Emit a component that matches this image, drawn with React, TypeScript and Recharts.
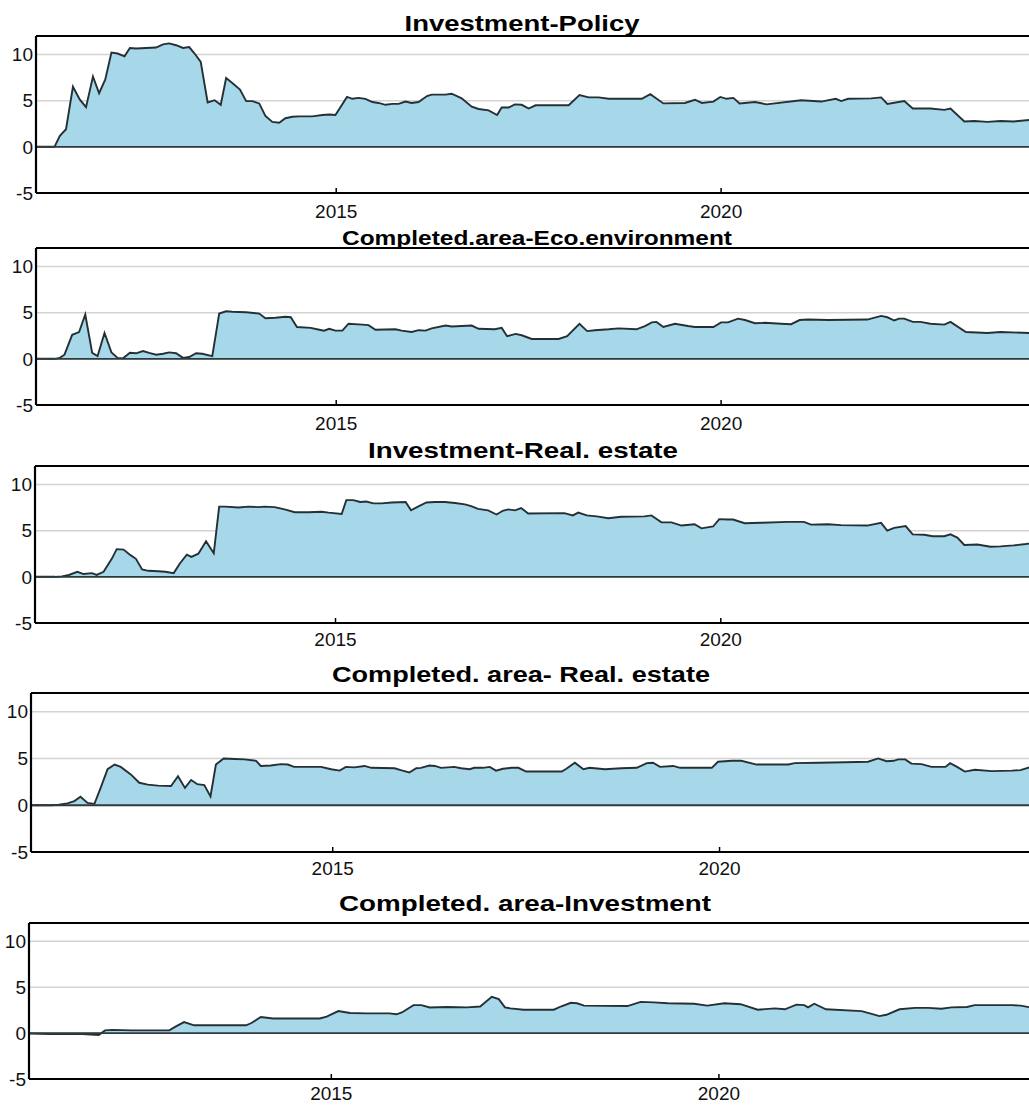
import { AreaChart, Area, XAxis, YAxis, CartesianGrid, ReferenceLine } from 'recharts';

// titles of the five panels, top to bottom
const panelTitles = [
  'Investment-Policy',
  'Completed.area-Eco.environment',
  'Investment-Real. estate',
  'Completed. area- Real. estate',
  'Completed. area-Investment',
];

const yearTicks = [2015, 2020];
const valueTicks = [-5, 0, 5, 10];

// Investment-Policy
const policyYears = [
  2011.1, 2011.34, 2011.41, 2011.49, 2011.58, 2011.67, 2011.75, 2011.84, 2011.92, 2012.0,
  2012.08, 2012.16, 2012.25, 2012.32, 2012.4, 2012.53, 2012.66, 2012.75, 2012.83, 2012.92,
  2013.01, 2013.09, 2013.16, 2013.24, 2013.33, 2013.42, 2013.5, 2013.57, 2013.65, 2013.75,
  2013.83, 2013.91, 2014.0, 2014.08, 2014.17, 2014.26, 2014.34, 2014.43, 2014.52, 2014.69,
  2014.82, 2014.91, 2014.99, 2015.14, 2015.21, 2015.29, 2015.38, 2015.47, 2015.55, 2015.64,
  2015.73, 2015.81, 2015.9, 2015.98, 2016.07, 2016.18, 2016.24, 2016.42, 2016.5, 2016.63,
  2016.76, 2016.85, 2016.98, 2017.09, 2017.15, 2017.24, 2017.32, 2017.41, 2017.5, 2017.59,
  2018.02, 2018.16, 2018.28, 2018.41, 2018.54, 2018.97, 2019.08, 2019.25, 2019.53, 2019.66,
  2019.75, 2019.9, 2019.99, 2020.07, 2020.16, 2020.24, 2020.44, 2020.59, 2021.04, 2021.3,
  2021.49, 2021.56, 2021.65, 2021.95, 2022.08, 2022.16, 2022.38, 2022.49, 2022.72, 2022.9,
  2022.98, 2023.16, 2023.29, 2023.46, 2023.63, 2023.8, 2024.0,
];
const policyValues = [
  0, 0, 1.2, 1.9, 6.5, 5.1, 4.3, 7.6, 5.8, 7.3,
  10.2, 10.1, 9.8, 10.7, 10.65, 10.7, 10.75, 11.1, 11.2, 11.0,
  10.7, 10.8, 10.1, 9.2, 4.8, 5.05, 4.55, 7.45, 6.9, 6.2,
  4.95, 4.95, 4.7, 3.35, 2.7, 2.6, 3.1, 3.25, 3.3, 3.3,
  3.45, 3.5, 3.45, 5.4, 5.2, 5.3, 5.2, 4.85, 4.75, 4.55,
  4.65, 4.65, 4.9, 4.75, 4.85, 5.5, 5.65, 5.65, 5.75, 5.25,
  4.35, 4.1, 3.95, 3.45, 4.25, 4.25, 4.6, 4.55, 4.15, 4.5,
  4.5, 5.6, 5.35, 5.35, 5.2, 5.2, 5.7, 4.7, 4.75, 5.1,
  4.75, 4.9, 5.4, 5.2, 5.3, 4.7, 4.85, 4.6, 5.05, 4.9,
  5.2, 4.95, 5.2, 5.25, 5.35, 4.65, 4.95, 4.15, 4.15, 4.0,
  4.15, 2.75, 2.8, 2.7, 2.8, 2.75, 2.9,
];

// Completed.area-Eco.environment
const ecoYears = [
  2011.1, 2011.34, 2011.41, 2011.47, 2011.57, 2011.66, 2011.74, 2011.83, 2011.9, 2011.99,
  2012.08, 2012.16, 2012.23, 2012.32, 2012.4, 2012.49, 2012.57, 2012.66, 2012.75, 2012.83,
  2012.92, 2013.01, 2013.09, 2013.18, 2013.26, 2013.39, 2013.48, 2013.57, 2013.65, 2013.83,
  2014.0, 2014.08, 2014.21, 2014.34, 2014.41, 2014.49, 2014.67, 2014.78, 2014.84, 2014.91,
  2014.99, 2015.08, 2015.16, 2015.34, 2015.42, 2015.51, 2015.77, 2015.85, 2015.98, 2016.07,
  2016.16, 2016.24, 2016.42, 2016.5, 2016.76, 2016.85, 2017.06, 2017.15, 2017.22, 2017.33,
  2017.41, 2017.54, 2017.89, 2018.0, 2018.16, 2018.26, 2018.36, 2018.54, 2018.67, 2018.9,
  2019.01, 2019.1, 2019.16, 2019.25, 2019.4, 2019.57, 2019.66, 2019.9, 2020.0, 2020.09,
  2020.22, 2020.31, 2020.44, 2020.57, 2020.78, 2020.91, 2021.02, 2021.13, 2021.39, 2021.9,
  2022.08, 2022.16, 2022.25, 2022.31, 2022.38, 2022.49, 2022.59, 2022.72, 2022.9, 2022.98,
  2023.18, 2023.46, 2023.63, 2024.0,
];
const ecoValues = [
  0, 0, 0.1, 0.45, 2.6, 2.9, 4.8, 0.65, 0.3, 2.8,
  0.7, 0.1, 0.05, 0.65, 0.6, 0.85, 0.65, 0.45, 0.55, 0.7,
  0.6, 0.1, 0.2, 0.6, 0.55, 0.3, 4.9, 5.15, 5.1, 5.05,
  4.9, 4.4, 4.45, 4.55, 4.5, 3.45, 3.35, 3.15, 3.05, 3.25,
  3.05, 3.05, 3.8, 3.7, 3.65, 3.15, 3.2, 3.05, 2.9, 3.1,
  3.05, 3.3, 3.6, 3.5, 3.6, 3.25, 3.2, 3.35, 2.45, 2.7,
  2.55, 2.15, 2.15, 2.45, 3.8, 3.0, 3.1, 3.2, 3.3, 3.2,
  3.55, 3.95, 4.0, 3.45, 3.8, 3.55, 3.45, 3.45, 3.95, 3.95,
  4.35, 4.2, 3.85, 3.9, 3.8, 3.75, 4.2, 4.25, 4.2, 4.25,
  4.65, 4.5, 4.15, 4.35, 4.35, 4.0, 4.0, 3.8, 3.7, 4.0,
  2.9, 2.8, 2.9, 2.8,
];

// Investment-Real. estate
const realEstateYears = [
  2011.1, 2011.36, 2011.45, 2011.54, 2011.65, 2011.73, 2011.84, 2011.9, 2011.99, 2012.1,
  2012.16, 2012.25, 2012.34, 2012.41, 2012.49, 2012.57, 2012.7, 2012.79, 2012.9, 2012.98,
  2013.07, 2013.13, 2013.22, 2013.32, 2013.42, 2013.49, 2013.57, 2013.74, 2013.87, 2014.0,
  2014.08, 2014.21, 2014.34, 2014.47, 2014.65, 2014.82, 2014.91, 2015.08, 2015.14, 2015.23,
  2015.32, 2015.4, 2015.49, 2015.6, 2015.73, 2015.91, 2015.98, 2016.07, 2016.18, 2016.29,
  2016.42, 2016.55, 2016.68, 2016.76, 2016.85, 2016.98, 2017.09, 2017.17, 2017.24, 2017.33,
  2017.41, 2017.5, 2017.97, 2018.08, 2018.15, 2018.26, 2018.39, 2018.54, 2018.71, 2019.01,
  2019.1, 2019.23, 2019.36, 2019.49, 2019.66, 2019.75, 2019.9, 2019.98, 2020.09, 2020.16,
  2020.31, 2020.52, 2020.87, 2021.08, 2021.17, 2021.39, 2021.56, 2021.9, 2022.08, 2022.16,
  2022.25, 2022.4, 2022.49, 2022.64, 2022.75, 2022.9, 2022.98, 2023.07, 2023.16, 2023.33,
  2023.5, 2023.63, 2023.8, 2023.96, 2024.0,
];
const realEstateValues = [
  0, 0, 0.05, 0.2, 0.55, 0.3, 0.4, 0.2, 0.55, 2.0,
  3.0, 2.95, 2.35, 1.95, 0.8, 0.65, 0.6, 0.55, 0.4, 1.45,
  2.4, 2.15, 2.5, 3.85, 2.55, 7.6, 7.6, 7.5, 7.6, 7.55,
  7.6, 7.55, 7.3, 7.0, 7.0, 7.05, 6.95, 6.8, 8.3, 8.3,
  8.1, 8.15, 7.95, 7.95, 8.05, 8.1, 7.2, 7.6, 8.05, 8.1,
  8.1, 8.0, 7.85, 7.65, 7.35, 7.2, 6.75, 7.15, 7.3, 7.2,
  7.45, 6.85, 6.9, 6.65, 6.95, 6.65, 6.55, 6.35, 6.5, 6.55,
  6.65, 5.9, 5.9, 5.55, 5.7, 5.25, 5.45, 6.25, 6.2, 6.2,
  5.8, 5.85, 5.95, 5.95, 5.65, 5.7, 5.6, 5.55, 5.85, 5.0,
  5.3, 5.5, 4.6, 4.55, 4.4, 4.4, 4.6, 4.25, 3.45, 3.5,
  3.25, 3.3, 3.4, 3.55, 3.6,
];

// Completed. area- Real. estate
const areaRealEstateYears = [
  2011.1, 2011.36, 2011.46, 2011.57, 2011.66, 2011.74, 2011.83, 2011.92, 2012.0, 2012.09,
  2012.18, 2012.26, 2012.39, 2012.5, 2012.61, 2012.74, 2012.91, 2013.0, 2013.09, 2013.17,
  2013.25, 2013.34, 2013.42, 2013.49, 2013.59, 2013.73, 2013.86, 2014.01, 2014.07, 2014.2,
  2014.33, 2014.42, 2014.5, 2014.63, 2014.85, 2014.98, 2015.09, 2015.17, 2015.28, 2015.41,
  2015.5, 2015.8, 2015.88, 2015.99, 2016.08, 2016.14, 2016.25, 2016.32, 2016.4, 2016.57,
  2016.66, 2016.77, 2016.83, 2016.94, 2017.03, 2017.11, 2017.2, 2017.31, 2017.4, 2017.5,
  2017.96, 2018.02, 2018.13, 2018.24, 2018.32, 2018.52, 2018.73, 2018.93, 2019.06, 2019.14,
  2019.23, 2019.4, 2019.49, 2019.9, 2019.98, 2020.16, 2020.28, 2020.48, 2020.89, 2020.97,
  2021.28, 2021.62, 2021.92, 2022.05, 2022.16, 2022.25, 2022.31, 2022.4, 2022.48, 2022.61,
  2022.74, 2022.92, 2022.98, 2023.07, 2023.17, 2023.3, 2023.52, 2023.78, 2023.89, 2024.02,
];
const areaRealEstateValues = [
  0, 0, 0.05, 0.2, 0.45, 0.9, 0.25, 0.15, 1.85, 3.85,
  4.35, 4.1, 3.3, 2.4, 2.2, 2.1, 2.05, 3.1, 1.85, 2.7,
  2.25, 2.15, 0.95, 4.35, 5.0, 4.95, 4.9, 4.75, 4.2, 4.25,
  4.4, 4.35, 4.1, 4.1, 4.1, 3.85, 3.7, 4.1, 4.05, 4.2,
  4.0, 3.95, 3.75, 3.5, 3.95, 4.0, 4.25, 4.2, 4.0, 4.1,
  3.95, 3.85, 4.0, 4.0, 4.1, 3.7, 3.9, 4.0, 4.0, 3.6,
  3.6, 3.9, 4.55, 3.85, 4.0, 3.85, 3.95, 4.0, 4.5, 4.55,
  4.1, 4.2, 4.0, 4.0, 4.65, 4.75, 4.75, 4.35, 4.35, 4.5,
  4.55, 4.6, 4.65, 5.0, 4.7, 4.75, 4.9, 4.9, 4.45, 4.4,
  4.1, 4.1, 4.5, 4.1, 3.6, 3.8, 3.65, 3.7, 3.75, 4.1,
];

// Completed. area-Investment
const areaInvestmentYears = [
  2011.1, 2011.36, 2011.79, 2012.0, 2012.08, 2012.18, 2012.43, 2012.91, 2012.99, 2013.1,
  2013.23, 2013.51, 2013.9, 2013.97, 2014.09, 2014.25, 2014.85, 2014.94, 2015.09, 2015.24,
  2015.45, 2015.75, 2015.84, 2015.91, 2016.06, 2016.16, 2016.27, 2016.49, 2016.75, 2016.92,
  2017.07, 2017.16, 2017.24, 2017.31, 2017.48, 2017.87, 2017.96, 2018.09, 2018.17, 2018.26,
  2018.82, 2018.99, 2019.16, 2019.34, 2019.68, 2019.85, 2020.07, 2020.28, 2020.5, 2020.72,
  2020.85, 2021.0, 2021.1, 2021.15, 2021.23, 2021.38, 2021.84, 2021.97, 2022.07, 2022.16,
  2022.33, 2022.53, 2022.7, 2022.87, 2023.0, 2023.2, 2023.3, 2023.78, 2023.89, 2024.02,
];
const areaInvestmentValues = [
  -0.05, -0.1, -0.1, -0.2, 0.3, 0.35, 0.3, 0.3, 0.7, 1.2,
  0.85, 0.85, 0.85, 1.1, 1.75, 1.6, 1.6, 1.8, 2.4, 2.2,
  2.15, 2.15, 2.05, 2.25, 3.05, 3.05, 2.8, 2.85, 2.8, 2.9,
  3.95, 3.7, 2.8, 2.7, 2.55, 2.55, 2.9, 3.3, 3.25, 3.0,
  2.95, 3.4, 3.35, 3.25, 3.2, 3.0, 3.25, 3.15, 2.55, 2.7,
  2.6, 3.1, 3.05, 2.8, 3.2, 2.6, 2.4, 2.1, 1.85, 2.0,
  2.6, 2.75, 2.75, 2.65, 2.8, 2.85, 3.05, 3.05, 3.0, 2.8,
];

const FONT = '"Liberation Sans", Arial, Helvetica, sans-serif';
const FILL = '#a6d8ea';
const LINE = '#253035';

// page placement of each panel (plot box edges, x label gap and title box)
const PANELS = [
  { title: panelTitles[0], years: policyYears, values: policyValues,
    plotTop: 36, plotBottom: 193, plotLeft: 36, labelGap: 12, titleX: 522, titleY: 23, titleW: 235, titleSize: 22 },
  { title: panelTitles[1], years: ecoYears, values: ecoValues,
    plotTop: 248, plotBottom: 405, plotLeft: 36, labelGap: 12, titleX: 537, titleY: 237.5, titleW: 390, titleSize: 21 },
  { title: panelTitles[2], years: realEstateYears, values: realEstateValues,
    plotTop: 466, plotBottom: 623, plotLeft: 35, labelGap: 10, titleX: 523, titleY: 450.5, titleW: 310, titleSize: 22 },
  { title: panelTitles[3], years: areaRealEstateYears, values: areaRealEstateValues,
    plotTop: 693, plotBottom: 852, plotLeft: 31, labelGap: 10, titleX: 521, titleY: 674, titleW: 378, titleSize: 22 },
  { title: panelTitles[4], years: areaInvestmentYears, values: areaInvestmentValues,
    plotTop: 923, plotBottom: 1079, plotLeft: 29, labelGap: 8, titleX: 525, titleY: 903, titleW: 372, titleSize: 22 },
];

type PanelProps = (typeof PANELS)[number];

function Panel({ years, values, plotTop, plotBottom, plotLeft, labelGap }: PanelProps) {
  const data = years.map((t, i) => ({ t, v: values[i] }));
  const height = 2 + (plotBottom - plotTop) + 28;
  const tickStyle = { fontSize: 19, fill: '#111', fontFamily: FONT };

  return (
    <div style={{ position: 'absolute', left: 0, top: plotTop - 2 }}>
      <AreaChart width={1029} height={height} data={data} margin={{ top: 2, right: 0, bottom: 0, left: 0 }}>
        <CartesianGrid vertical={false} stroke="#d3d3d3" strokeWidth={1.5} />
        <XAxis
          dataKey="t"
          type="number"
          domain={[2011.1, 2024]}
          allowDataOverflow
          ticks={yearTicks}
          height={28}
          tick={tickStyle}
          tickSize={-5}
          tickMargin={labelGap + 5}
          tickLine={{ stroke: '#000', strokeWidth: 1.5 }}
          axisLine={{ stroke: '#000', strokeWidth: 2.2 }}
        />
        <YAxis
          type="number"
          domain={[-5, 12]}
          allowDataOverflow
          ticks={valueTicks}
          width={plotLeft}
          tick={tickStyle}
          tickLine={false}
          tickSize={0}
          tickMargin={3}
          axisLine={{ stroke: '#000', strokeWidth: 2.2 }}
        />
        <Area
          type="linear"
          dataKey="v"
          stroke={LINE}
          strokeWidth={1.9}
          fill={FILL}
          fillOpacity={1}
          dot={false}
          activeDot={false}
          isAnimationActive={false}
        />
        <ReferenceLine y={0} stroke="#2f3a3f" strokeWidth={1.8} />
        <ReferenceLine y={12} stroke="#000" strokeWidth={2.2} />
      </AreaChart>
    </div>
  );
}

export default function App() {
  return (
    <div
      style={{
        position: 'absolute', left: 0, top: 0, width: 1029, height: 1106,
        overflow: 'hidden', background: '#fff',
      }}
    >
      {PANELS.map((p) => (
        <Panel key={p.title} {...p} />
      ))}
      <svg width={1029} height={1106} style={{ position: 'absolute', left: 0, top: 0, pointerEvents: 'none' }}>
        {PANELS.map((p) => (
          <text
            key={p.title}
            x={p.titleX}
            y={p.titleY + p.titleSize * 0.36}
            textAnchor="middle"
            fontFamily={FONT}
            fontWeight="bold"
            fontSize={p.titleSize}
            fill="#000"
            textLength={p.titleW}
            lengthAdjust="spacingAndGlyphs"
          >
            {p.title}
          </text>
        ))}
      </svg>
    </div>
  );
}
